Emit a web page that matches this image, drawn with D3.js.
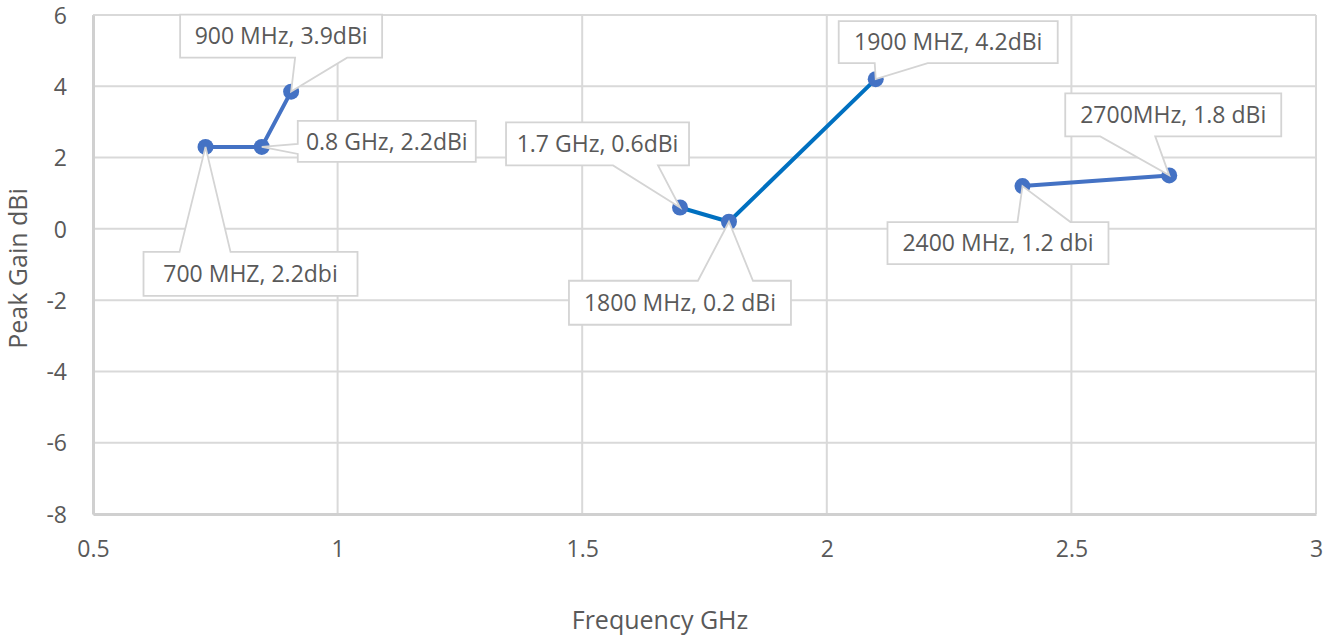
<!DOCTYPE html>
<html>
<head>
<meta charset="utf-8">
<script src="https://cdn.jsdelivr.net/npm/d3@7"></script>
<style>
  html, body { margin: 0; padding: 0; background: #ffffff; }
  svg { display: block; }
  text { font-family: "Open Sans", "Noto Sans", sans-serif; fill: #595959; }
</style>
</head>
<body>
<svg id="chart" width="1339" height="639"></svg>
<script>
// ---------- data ----------
const lowBandFreq = [0.73, 0.845, 0.905];
const lowBandGain = [2.3, 2.3, 3.85];
const lowBandLabels = ["700 MHZ, 2.2dbi", "0.8 GHz, 2.2dBi", "900 MHz, 3.9dBi"];

const midBandFreq = [1.7, 1.8, 2.1];
const midBandGain = [0.6, 0.2, 4.2];
const midBandLabels = ["1.7 GHz, 0.6dBi", "1800 MHz, 0.2 dBi", "1900 MHZ, 4.2dBi"];

const highBandFreq = [2.4, 2.7];
const highBandGain = [1.2, 1.5];
const highBandLabels = ["2400 MHz, 1.2 dbi", "2700MHz, 1.8 dBi"];

const xTickValues = [0.5, 1, 1.5, 2, 2.5, 3];
const yTickValues = [-8, -6, -4, -2, 0, 2, 4, 6];
const xTitle = "Frequency GHz";
const yTitle = "Peak Gain dBi";

// ---------- layout (callout boxes relative to their point, px) ----------
// [dx, dy, w, h, side, wedgeStart, wedgeEnd]
const lowLayout = [
  [-62, 105, 214, 44, "top", 36, 87],
  [36, -26, 178, 41, "left", 23, 33],
  [-111, -77, 202, 43, "bottom", 115, 167]
];
const midLayout = [
  [-174, -85, 183, 43, "bottom", 107, 152],
  [-160, 59, 222, 44, "top", 129, 184],
  [-37, -58, 219, 42, "bottom", 36, 89]
];
const highLayout = [
  [-135, 36, 221, 42, "top", 130, 183],
  [-104, -82, 216, 43, "bottom", 35, 90]
];

// ---------- chart ----------
const svg = d3.select("#chart");
const plot = { left: 93, right: 1316, top: 15, bottom: 514 };

const x = d3.scaleLinear().domain([0.5, 3]).range([plot.left, plot.right]);
const y = d3.scaleLinear().domain([-8, 6]).range([plot.bottom, plot.top]);

const gridColor = "#d9d9d9";

// gridlines
svg.append("g")
  .selectAll("line")
  .data(yTickValues)
  .join("line")
  .attr("x1", plot.left).attr("x2", plot.right)
  .attr("y1", d => y(d)).attr("y2", d => y(d))
  .attr("stroke", gridColor).attr("stroke-width", 2);

svg.append("g")
  .selectAll("line")
  .data(xTickValues)
  .join("line")
  .attr("y1", plot.top).attr("y2", plot.bottom)
  .attr("x1", d => x(d)).attr("x2", d => x(d))
  .attr("stroke", gridColor).attr("stroke-width", 2);

// axes (no tick marks, labels only)
const xAxis = svg.append("g")
  .attr("transform", `translate(0,${plot.bottom})`)
  .call(d3.axisBottom(x).tickValues(xTickValues).tickSize(0).tickPadding(0).tickFormat(d3.format("")));
xAxis.select(".domain").attr("stroke", "#d0d0d0").attr("stroke-width", 3);
xAxis.selectAll("text")
  .attr("dy", null).attr("y", 43)
  .style("font-size", "23px").style("fill", "#595959")
  .style("font-family", "'Open Sans', sans-serif");

const yAxis = svg.append("g")
  .attr("transform", `translate(${plot.left},0)`)
  .call(d3.axisLeft(y).tickValues(yTickValues).tickSize(0).tickPadding(0).tickFormat(d3.format("")));
yAxis.select(".domain").attr("stroke", "#d0d0d0").attr("stroke-width", 3);
yAxis.selectAll("text")
  .attr("x", -26).attr("dy", "0.36em")
  .style("font-size", "23px").style("fill", "#595959")
  .style("font-family", "'Open Sans', sans-serif")
  .text(d => d < 0 ? "-" + Math.abs(d) : d);

// axis titles
svg.append("text")
  .attr("x", 660).attr("y", 629)
  .attr("text-anchor", "middle")
  .style("font-size", "25px")
  .text(xTitle);

svg.append("text")
  .attr("transform", `translate(27,${(plot.top + plot.bottom) / 2 + 4}) rotate(-90)`)
  .attr("text-anchor", "middle")
  .style("font-size", "25px")
  .text(yTitle);

// series
const series = [
  { fx: lowBandFreq, gy: lowBandGain, labels: lowBandLabels, layout: lowLayout, line: "#4472c4" },
  { fx: midBandFreq, gy: midBandGain, labels: midBandLabels, layout: midLayout, line: "#0070c0" },
  { fx: highBandFreq, gy: highBandGain, labels: highBandLabels, layout: highLayout, line: "#4472c4" }
];

const lineGen = d3.line().x(d => x(d[0])).y(d => y(d[1]));

series.forEach(s => {
  const pts = s.fx.map((f, i) => [f, s.gy[i]]);
  svg.append("path")
    .datum(pts)
    .attr("d", lineGen)
    .attr("fill", "none")
    .attr("stroke", s.line)
    .attr("stroke-width", 4)
    .attr("stroke-linejoin", "round");
  svg.append("g")
    .selectAll("circle")
    .data(pts)
    .join("circle")
    .attr("cx", d => x(d[0])).attr("cy", d => y(d[1]))
    .attr("r", 8)
    .attr("fill", "#4472c4");
});

// callouts
function calloutPath(bx, by, w, h, side, a, b, px, py) {
  const p = [];
  p.push([bx, by]);
  if (side === "top") { p.push([bx + a, by], [px, py], [bx + b, by]); }
  p.push([bx + w, by]);
  p.push([bx + w, by + h]);
  if (side === "bottom") { p.push([bx + b, by + h], [px, py], [bx + a, by + h]); }
  p.push([bx, by + h]);
  if (side === "left") { p.push([bx, by + b], [px, py], [bx, by + a]); }
  return "M" + p.map(q => q.join(",")).join("L") + "Z";
}

series.forEach(s => {
  s.fx.forEach((f, i) => {
    const px = x(f), py = y(s.gy[i]);
    const [dx, dy, w, h, side, a, b] = s.layout[i];
    const bx = px + dx, by = py + dy;
    const g = svg.append("g");
    g.append("path")
      .attr("d", calloutPath(bx, by, w, h, side, a, b, px, py))
      .attr("fill", "#ffffff")
      .attr("stroke", "#d4d4d4")
      .attr("stroke-width", 1.8)
      .attr("stroke-linejoin", "miter");
    g.append("text")
      .attr("x", bx + w / 2).attr("y", by + h / 2)
      .attr("dy", "0.36em")
      .attr("text-anchor", "middle")
      .style("font-size", "23px")
      .text(s.labels[i]);
  });
});
</script>
</body>
</html>
